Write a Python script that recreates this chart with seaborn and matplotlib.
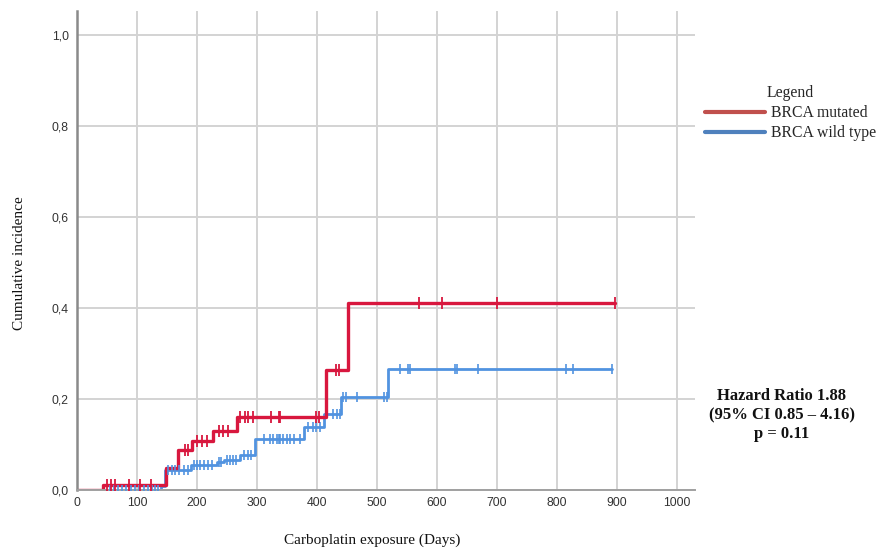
import numpy as np
import pandas as pd
import matplotlib
matplotlib.use("Agg")
import matplotlib.pyplot as plt
from matplotlib.lines import Line2D
from matplotlib.ticker import FuncFormatter
import seaborn as sns

# ---- data ----
groups = ["BRCA mutated", "BRCA wild type"]

mut_times = [0, 43, 148, 169, 191, 226, 267, 415, 451, 897]
mut_inc = [0.0, 0.010, 0.048, 0.088, 0.107, 0.129, 0.160, 0.263, 0.410, 0.410]
mut_censor = [50, 56, 63, 86, 105, 124, 180, 185, 200, 209, 216, 237, 244, 252,
              272, 280, 285, 294, 324, 337, 339, 399, 404, 432, 436,
              570, 609, 700, 897]

wt_times = [0, 140, 147, 190, 233, 245, 272, 296, 378, 412, 440, 519, 892]
wt_inc = [0.0, 0.008, 0.044, 0.055, 0.062, 0.066, 0.076, 0.111, 0.139, 0.167,
          0.205, 0.267, 0.267]
wt_censor = [55, 62, 68, 75, 82, 90, 97, 104, 112, 118, 125, 130, 135,
             152, 158, 163, 170, 178, 185, 195, 200, 205, 212, 218, 225,
             237, 240, 250, 255, 260, 265, 278, 285, 290,
             311, 322, 327, 333, 336, 339, 344, 350, 355, 361, 371,
             385, 394, 399, 405, 427, 434, 438, 444, 448, 467, 511, 516,
             538, 552, 555, 630, 634, 668, 815, 827, 892]

x_ticks = [0, 100, 200, 300, 400, 500, 600, 700, 800, 900, 1000]
y_ticks = [0.0, 0.2, 0.4, 0.6, 0.8, 1.0]

line_colors = {"BRCA mutated": "#d8173e", "BRCA wild type": "#5193e0"}
legend_colors = {"BRCA mutated": "#c0504d", "BRCA wild type": "#4f81bd"}

# ---- build tables ----
curves = pd.concat([
    pd.DataFrame({"time": mut_times, "inc": mut_inc, "group": groups[0]}),
    pd.DataFrame({"time": wt_times, "inc": wt_inc, "group": groups[1]}),
], ignore_index=True)


def level_at(times, inc, t):
    idx = np.searchsorted(np.asarray(times), np.asarray(t), side="right") - 1
    return np.asarray(inc)[idx]


cens_mut = pd.DataFrame({"time": mut_censor,
                         "inc": level_at(mut_times, mut_inc, mut_censor)})
cens_wt = pd.DataFrame({"time": wt_censor,
                        "inc": level_at(wt_times, wt_inc, wt_censor)})

# ---- figure ----
sns.set_theme(style="whitegrid")
plt.rcParams["font.family"] = ["Liberation Sans", "DejaVu Sans"]

fig = plt.figure(figsize=(8.79, 5.53), dpi=100)
ax = fig.add_axes([77 / 879, 1 - 490 / 553, 618 / 879, 479 / 553])

# wild type first, mutated on top
sns.lineplot(data=curves[curves.group == groups[1]], x="time", y="inc",
             color=line_colors[groups[1]], drawstyle="steps-post",
             estimator=None, sort=False, linewidth=2.0, ax=ax, legend=False)
sns.scatterplot(data=cens_wt, x="time", y="inc", marker="|", s=55,
                linewidth=1.2, color=line_colors[groups[1]], ax=ax,
                legend=False, zorder=3)
sns.lineplot(data=curves[curves.group == groups[0]], x="time", y="inc",
             color=line_colors[groups[0]], drawstyle="steps-post",
             estimator=None, sort=False, linewidth=2.4, ax=ax, legend=False)
sns.scatterplot(data=cens_mut, x="time", y="inc", marker="|", s=70,
                linewidth=1.3, color=line_colors[groups[0]], ax=ax,
                legend=False, clip_on=False, zorder=4)

ax.set_xlim(0, 1030)
ax.set_ylim(0, 1.0527)
ax.set_xticks(x_ticks)
ax.set_yticks(y_ticks)
ax.yaxis.set_major_formatter(FuncFormatter(lambda v, p: f"{v:.1f}".replace(".", ",")))
ax.tick_params(axis="both", length=0, labelsize=8.8, colors="#333333")
ax.tick_params(axis="x", pad=5)
ax.tick_params(axis="y", pad=6)

ax.grid(True, color="#d3d3d3", linewidth=1.4)
ax.set_facecolor("white")
for s in ["top", "right"]:
    ax.spines[s].set_visible(False)
ax.spines["left"].set_color("#8a8a8a")
ax.spines["left"].set_linewidth(1.8)
ax.spines["bottom"].set_color("#a0a0a0")
ax.spines["bottom"].set_linewidth(1.4)

serif = ["Liberation Serif", "DejaVu Serif"]
ax.set_xlabel("Carboplatin exposure (Days)", family=serif, fontsize=11, color="#111111")
ax.set_ylabel("Cumulative incidence", family=serif, fontsize=11, color="#111111")
ax.xaxis.set_label_coords(0.477, -0.09)
ax.yaxis.set_label_coords(-0.082, 0.474)

handles = [Line2D([0], [0], color=legend_colors[g], linewidth=3) for g in groups]
leg = fig.legend(handles, groups, title="Legend", loc="upper left",
                 bbox_to_anchor=(699 / 879, 1 - 79 / 553), frameon=False,
                 prop={"family": serif, "size": 11.3}, handlelength=3.8,
                 handletextpad=0.38, labelspacing=0.25, borderaxespad=0)
leg.get_title().set_family(serif)
leg.get_title().set_fontsize(11.3)

fig.text(782 / 879, 1 - 415 / 553,
         "Hazard Ratio 1.88\n(95% CI 0.85 \u2013 4.16)\np = 0.11",
         ha="center", va="center", family=serif, fontsize=12,
         fontweight="bold", color="#111111", linespacing=1.25)

fig.savefig("out.png", dpi=100)
